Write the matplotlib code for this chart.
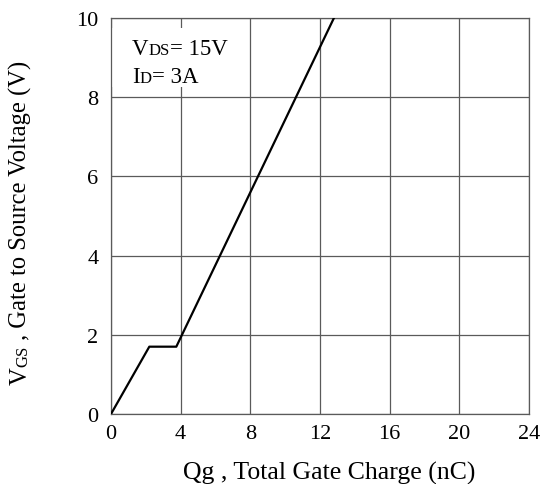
import matplotlib
matplotlib.use('Agg')
import matplotlib.pyplot as plt
from matplotlib.transforms import IdentityTransform
from matplotlib.patches import Rectangle

# gate charge curve (nC, V)
qg = [0, 2.2, 3.75, 12.8]
vgs = [0, 1.7, 1.7, 10]

x_ticks = [0, 4, 8, 12, 16, 20, 24]
y_ticks = [0, 2, 4, 6, 8, 10]

plt.rcParams['font.family'] = ['Liberation Serif', 'DejaVu Serif']

W, H = 546, 485
fig = plt.figure(figsize=(W / 100, H / 100), dpi=100)
ax = fig.add_axes([111 / W, 1 - 415 / H, 418 / W, 396 / H])

ax.plot(qg, vgs, color='black', lw=1.6, zorder=3)

ax.set_xlim(0, 24)
ax.set_ylim(0, 10)
ax.set_xticks(x_ticks)
ax.set_yticks(y_ticks)
ax.tick_params(length=0, labelsize=16)
ax.tick_params(axis='x', pad=7)
ax.tick_params(axis='y', pad=9)
ax.grid(True, color='#5a5a5a', lw=0.9)
for s in ax.spines.values():
    s.set_color('#5a5a5a')
    s.set_linewidth(0.9)

# white box behind the conditions text
ax.add_patch(Rectangle((0.08, 8.25), 6.8, 1.5, facecolor='white', edgecolor='none', zorder=2.5))

renderer = fig.canvas.get_renderer()


def place(pieces, x0, y0, rot=0):
    # write text pieces one after another, baseline aligned (pixel coords, top-left origin)
    x, y = x0, H - y0
    for s, size in pieces:
        t = fig.text(x, y, s, fontsize=size, rotation=rot, rotation_mode='anchor',
                     ha='left', va='baseline', transform=IdentityTransform(), zorder=5)
        bb = t.get_window_extent(renderer)
        if rot == 0:
            x += bb.width
        else:
            y += bb.height


place([('V', 16.5), ('DS', 12), ('= 15V', 16.5)], 132, 55)
place([('I', 16.5), ('D', 12), ('= 3A', 16.5)], 132, 83)

place([('V', 17.7), ('GS', 12), (' , Gate to Source Voltage (V)', 17.7)], 27, 385, rot=90)
place([('Qg , Total Gate Charge (nC)', 18.5)], 183, 480)

fig.savefig('out.png', dpi=100)
